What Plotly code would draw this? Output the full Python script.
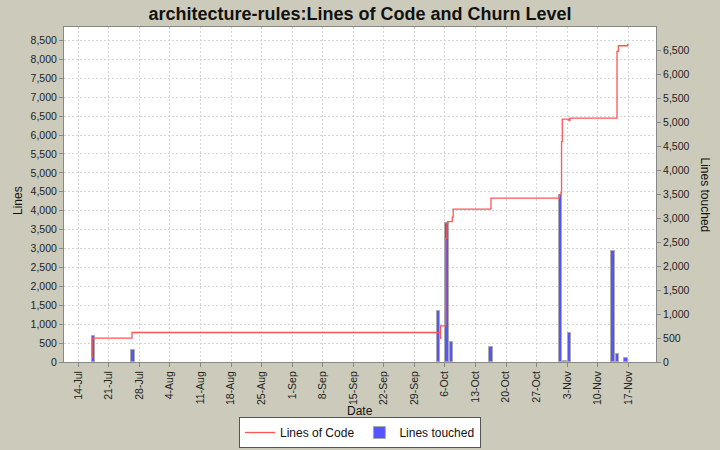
import plotly.graph_objects as go

# Lines of Code (step line, left axis)
loc_dates = [
    "2008-07-17 03:00", "2008-07-17 04:00", "2008-07-26 07:00",
    "2008-10-05 00:00", "2008-10-05 00:15", "2008-10-06 04:00",
    "2008-10-06 10:00", "2008-10-06 14:00", "2008-10-07 16:00",
    "2008-10-07 21:00", "2008-10-16 13:00", "2008-11-01 05:00",
    "2008-11-01 14:00", "2008-11-01 17:00", "2008-11-01 21:00",
    "2008-11-03 10:00", "2008-11-03 15:00", "2008-11-14 10:00",
    "2008-11-14 17:00", "2008-11-16 21:00",
]
loc_values = [
    130, 630, 780,
    620, 955, 3270,
    3665, 3710, 3830,
    4040, 4330, 4415,
    4476, 5826, 6419,
    6383, 6446, 8210,
    8360, 8410,
]

# Lines touched (bars, right axis)
churn_dates = [
    "2008-07-17", "2008-07-26", "2008-10-04", "2008-10-06", "2008-10-07",
    "2008-10-16", "2008-11-01", "2008-11-02", "2008-11-03", "2008-11-13",
    "2008-11-14", "2008-11-16",
]
churn_values = [550, 260, 1057, 2900, 427, 308, 3495, 30, 616, 2320, 161, 78]

DAY_MS = 86400000
PLOT_TOP, PLOT_BOTTOM = 27, 362
PLOT_LEFT, PLOT_RIGHT = 64, 656
plot_h = PLOT_BOTTOM - PLOT_TOP
plot_w = PLOT_RIGHT - PLOT_LEFT

fig = go.Figure()

fig.add_trace(go.Scatter(
    x=loc_dates, y=loc_values, name="Lines of Code", yaxis="y2",
    mode="lines", line=dict(color="#ff5555", width=1.3, shape="hv"),
))
fig.add_trace(go.Bar(
    x=churn_dates, y=churn_values, name="Lines touched", yaxis="y",
    xperiod=DAY_MS, xperiodalignment="middle", width=0.85 * DAY_MS,
    marker=dict(color="#5555ff", line=dict(color="#aaaaaa", width=1)),
))

font = "Liberation Sans, Arial, sans-serif"
grid = "#d4d4d4"
tickfont = dict(size=10.5, color="#222222")

fig.update_layout(
    width=720, height=450,
    margin=dict(l=PLOT_LEFT, r=720 - PLOT_RIGHT, t=PLOT_TOP,
                b=450 - PLOT_BOTTOM, autoexpand=False),
    paper_bgcolor="#cccbbb", plot_bgcolor="white",
    font=dict(family=font, size=11, color="#333333"),
    title=dict(text="<b>architecture-rules:Lines of Code and Churn Level</b>",
               x=0.5, xanchor="center", y=1 - 14 / 450, yanchor="middle",
               font=dict(size=18, color="#111111", family=font)),
    showlegend=True,
    legend=dict(orientation="h", x=0.5, xanchor="center",
                y=-(448 - PLOT_BOTTOM) / plot_h, yanchor="bottom",
                bgcolor="white", bordercolor="#555555", borderwidth=1,
                font=dict(size=12, color="#111111"), traceorder="normal",
                itemwidth=30, tracegroupgap=0),
    bargap=0,
    xaxis=dict(
        type="date", range=["2008-07-10 17:15", "2008-11-23 08:24"],
        tick0="2008-07-14", dtick=7 * DAY_MS, tickformat="%-d-%b",
        tickangle=-90, ticks="outside", ticklen=4, tickcolor="#888888",
        showgrid=True, gridcolor=grid, griddash="2px,2px", gridwidth=1,
        showline=True, linecolor="#888888", mirror=True, zeroline=False,
        automargin=False, tickfont=tickfont,
    ),
    yaxis=dict(
        side="right", range=[0, 6995], dtick=500, tickformat=",",
        showgrid=False, zeroline=False, ticks="outside", ticklen=4,
        tickcolor="#888888", showline=True, linecolor="#888888",
        automargin=False, tickfont=tickfont,
    ),
    yaxis2=dict(
        overlaying="y", side="left", range=[0, 8855], dtick=500,
        tickformat=",", showgrid=True, gridcolor=grid, griddash="2px,2px",
        zeroline=False, ticks="outside", ticklen=4, tickcolor="#888888",
        showline=True, linecolor="#888888", automargin=False,
        tickfont=tickfont,
    ),
    annotations=[
        dict(text="Lines touched", textangle=90, xref="paper", yref="paper",
             x=1 + (705 - PLOT_RIGHT) / plot_w, y=0.5, xanchor="center",
             yanchor="middle", showarrow=False,
             font=dict(size=12, color="#111111", family=font)),
        dict(text="Lines", textangle=-90, xref="paper", yref="paper",
             x=-(PLOT_LEFT - 18) / plot_w, y=(PLOT_BOTTOM - 201) / plot_h,
             xanchor="center", yanchor="middle", showarrow=False,
             font=dict(size=12, color="#111111", family=font)),
        dict(text="Date", xref="paper", yref="paper",
             x=(360 - PLOT_LEFT) / plot_w, y=-(411 - PLOT_BOTTOM) / plot_h,
             xanchor="center", yanchor="middle", showarrow=False,
             font=dict(size=12, color="#111111", family=font)),
    ],
)

fig.write_html("out.html")
